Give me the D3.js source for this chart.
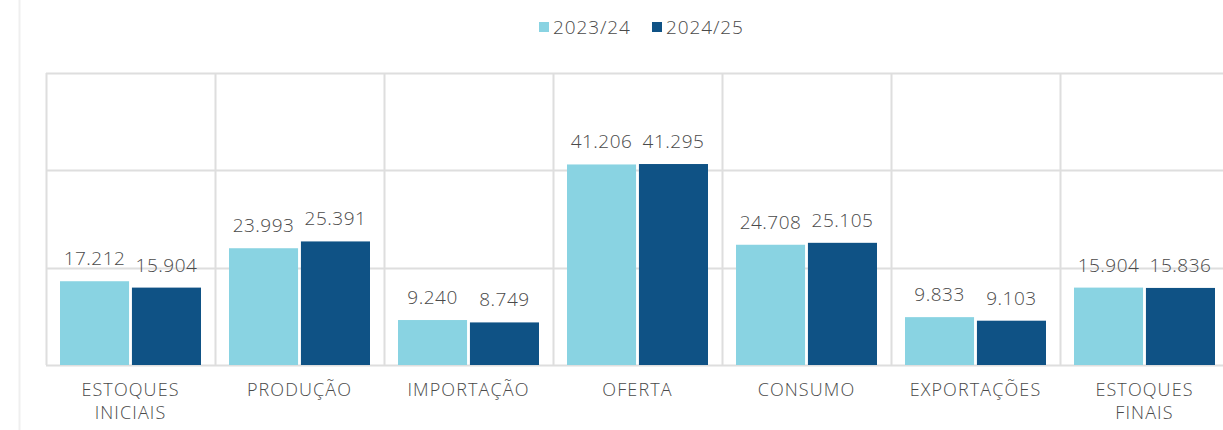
<!DOCTYPE html>
<html>
<head>
<meta charset="utf-8">
<style>
  body { margin: 0; background: #fff; overflow: hidden; }
  svg text { font-family: "Open Sans", Lato, sans-serif; font-weight: 300; fill: #4a4a4a; }
</style>
</head>
<body>
<div id="chart"></div>
<script src="https://d3js.org/d3.v7.min.js"></script>
<script>
var categories = ["ESTOQUES\nINICIAIS", "PRODUÇÃO", "IMPORTAÇÃO", "OFERTA", "CONSUMO", "EXPORTAÇÕES", "ESTOQUES\nFINAIS"];
var series = ["2023/24", "2024/25"];
var values2324 = [17.212, 23.993, 9.240, 41.206, 24.708, 9.833, 15.904];
var values2425 = [15.904, 25.391, 8.749, 41.295, 25.105, 9.103, 15.836];
var colors = ["#89D3E2", "#0F5285"];
var yTicks = [0, 20, 40, 60];

var W = 1223, H = 430;
var margin = {top: 73, left: 46, bottom: 65};
var bandW = 169;
var plotH = H - margin.top - margin.bottom;

var svg = d3.select("#chart").append("svg")
  .attr("width", W).attr("height", H);

// page border on the left
svg.append("line")
  .attr("x1", 19.5).attr("x2", 19.5).attr("y1", 0).attr("y2", H)
  .attr("stroke", "#efefef").attr("stroke-width", 2);

var x = d3.scaleBand()
  .domain(categories)
  .range([margin.left, margin.left + bandW * categories.length])
  .paddingInner(0).paddingOuter(0);

var y = d3.scaleLinear().domain([0, 60]).range([margin.top + plotH, margin.top]);

var x1 = d3.scaleBand().domain(series).range([14, bandW - 14]).paddingInner(0.04);

// horizontal grid
svg.append("g").selectAll("line").data(yTicks).enter().append("line")
  .attr("x1", margin.left).attr("x2", W)
  .attr("y1", d => Math.round(y(d)) + 0.5).attr("y2", d => Math.round(y(d)) + 0.5)
  .attr("stroke", "#dedede").attr("stroke-width", 2);

// vertical grid
var edges = categories.map(c => x(c)).concat([x.range()[1]]);
svg.append("g").selectAll("line").data(edges).enter().append("line")
  .attr("x1", d => d + 0.5).attr("x2", d => d + 0.5)
  .attr("y1", y(60)).attr("y2", y(0))
  .attr("stroke", "#dedede").attr("stroke-width", 2);

var rows = categories.map((c, i) => ({cat: c, vals: [values2324[i], values2425[i]]}));

var groups = svg.append("g").selectAll("g").data(rows).enter().append("g")
  .attr("transform", d => "translate(" + x(d.cat) + ",0)");

groups.selectAll("rect").data(d => d.vals.map((v, j) => ({s: series[j], v: v, j: j})))
  .enter().append("rect")
  .attr("x", d => x1(d.s))
  .attr("y", d => y(d.v))
  .attr("width", x1.bandwidth())
  .attr("height", d => y(0) - y(d.v))
  .attr("fill", d => colors[d.j]);

groups.selectAll("text.val").data(d => d.vals.map((v, j) => ({s: series[j], v: v})))
  .enter().append("text")
  .attr("class", "val")
  .attr("x", d => x1(d.s) + x1.bandwidth() / 2)
  .attr("y", d => y(d.v) - 16)
  .attr("text-anchor", "middle")
  .style("font-size", "19px")
  .style("letter-spacing", "0.5px")
  .text(d => d.v.toFixed(3));

// category labels
groups.each(function(d) {
  var lines = d.cat.split("\n");
  var t = d3.select(this).append("text")
    .attr("text-anchor", "middle")
    .style("font-size", "18px")
    .style("letter-spacing", "1.1px");
  lines.forEach(function(l, k) {
    t.append("tspan").attr("x", bandW / 2).attr("y", y(0) + 31 + k * 23).text(l);
  });
});

// legend
var legend = svg.append("g");
var lx = [539, 652];
series.forEach(function(s, i) {
  legend.append("rect").attr("x", lx[i]).attr("y", 22).attr("width", 10).attr("height", 10)
    .attr("fill", colors[i]);
  legend.append("text").attr("x", lx[i] + 14).attr("y", 34)
    .style("font-size", "19px").style("letter-spacing", "0.9px").text(s);
});
</script>
</body>
</html>
